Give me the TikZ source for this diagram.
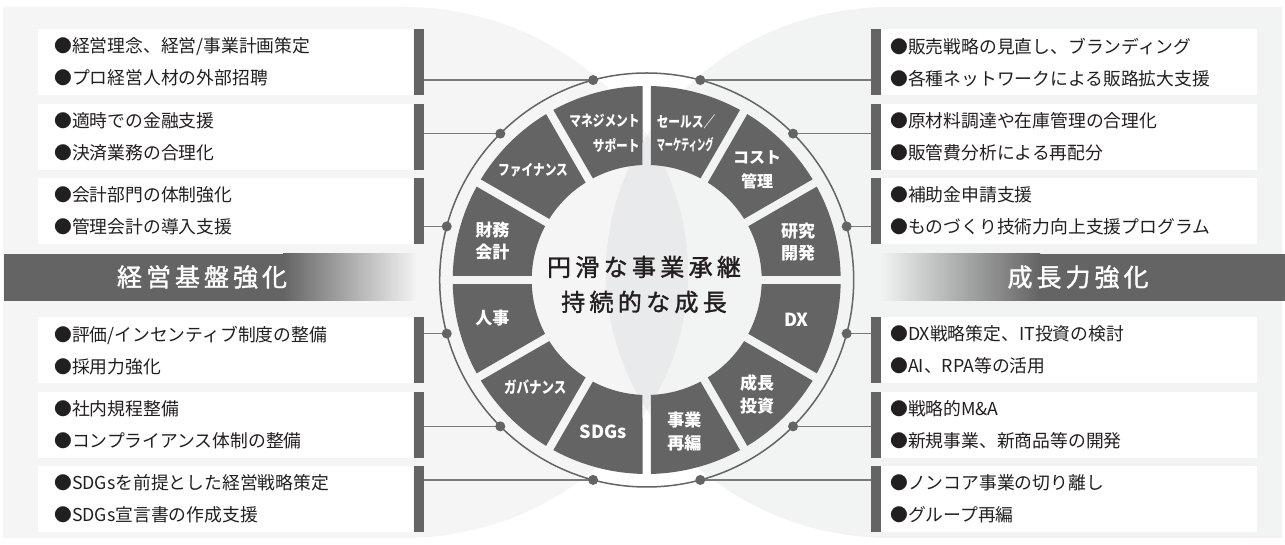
\documentclass[tikz,border=0pt]{standalone}
\usepackage{fontspec}
\usepackage{graphicx}
\setmainfont{Noto Sans CJK JP}
\newfontfamily\narrowjp[FakeStretch=0.78]{Noto Sans CJK JP}
\newfontfamily\mediumjp[FakeBold=1.4]{Noto Sans CJK JP}
\usetikzlibrary{positioning,calc}

\definecolor{bgleft}{HTML}{F5F5F5}
\definecolor{bgright}{HTML}{F2F3F3}
\definecolor{bglens}{HTML}{E9EAEB}
\definecolor{secgray}{HTML}{646464}
\definecolor{linegray}{HTML}{7A7A7A}
\definecolor{txtdark}{HTML}{231F20}

\tikzset{
  itembox/.style={fill=white, minimum width=375pt, minimum height=66pt, text width=343pt,
    inner xsep=16pt, inner ysep=0pt, align=left, text=txtdark,
    font=\fontsize{17.8}{32}\selectfont},
  itemboxr/.style={itembox, minimum width=376pt, text width=358pt, inner xsep=9pt},
  itembar/.style={fill=secgray, minimum width=10pt, minimum height=66pt, inner sep=0pt},
  titletext/.style={text=white, inner sep=0pt,
    font=\mediumjp\fontsize{25}{30}\selectfont\addfontfeature{LetterSpace=16}},
  seclabel/.style={text=white, inner sep=0pt, align=center},
  link/.style={draw=linegray, line width=1.3pt},
  ring/.style={draw=secgray, line width=1.5pt},
}

\begin{document}
\begin{tikzpicture}[x=1pt, y=1pt]
\useasboundingbox (0,0) rectangle (1285,545);
\fill[white] (0,0) rectangle (1285,545);

% Background halves
\fill[bgleft] (3,7) -- (403,7) arc[start angle=-90, end angle=90, x radius=285, y radius=265.5] -- (3,538) -- cycle;
\fill[bgright] (1282,7) -- (891,7) arc[start angle=270, end angle=90, x radius=285, y radius=265.5] -- (1282,538) -- cycle;
\begin{scope}
  \clip (3,7) -- (403,7) arc[start angle=-90, end angle=90, x radius=285, y radius=265.5] -- (3,538) -- cycle;
  \fill[bglens] (1282,7) -- (891,7) arc[start angle=270, end angle=90, x radius=285, y radius=265.5] -- (1282,538) -- cycle;
\end{scope}

% Left items
\node[itembox, anchor=north west] (L1) at (38,516) {●経営理念、経営/事業計画策定\\●プロ経営人材の外部招聘};
\node[itembox, below=8pt of L1] (L2) {●適時での金融支援\\●決済業務の合理化};
\node[itembox, below=8pt of L2] (L3) {●会計部門の体制強化\\●管理会計の導入支援};
\node[itembox, anchor=north west] (L4) at (38,228) {●評価/インセンティブ制度の整備\\●採用力強化};
\node[itembox, below=8pt of L4] (L5) {●社内規程整備\\●コンプライアンス体制の整備};
\node[itembox, below=8pt of L5] (L6) {●SDGsを前提とした経営戦略策定\\●SDGs宣言書の作成支援};
\foreach \i in {1,...,6}
  \node[itembar, right=0pt of L\i] (BL\i) {};

% Right items
\node[itemboxr, anchor=north west] (R1) at (881,516) {●販売戦略の見直し、ブランディング\\●各種ネットワークによる販路拡大支援};
\node[itemboxr, below=8pt of R1] (R2) {●原材料調達や在庫管理の合理化\\●販管費分析による再配分};
\node[itemboxr, below=8pt of R2] (R3) {●補助金申請支援\\●ものづくり技術力向上支援プログラム};
\node[itemboxr, anchor=north west] (R4) at (881,228) {●DX戦略策定、IT投資の検討\\●AI、RPA等の活用};
\node[itemboxr, below=8pt of R4] (R5) {●戦略的M\&A\\●新規事業、新商品等の開発};
\node[itemboxr, below=8pt of R5] (R6) {●ノンコア事業の切り離し\\●グループ再編};
\foreach \i in {1,...,6}
  \node[itembar, left=0pt of R\i] (BR\i) {};

% Title bars
\fill[secgray] (4,244) rectangle (283,291);
\shade[left color=secgray, right color=bgleft] (283,244) rectangle (418,291);
\node[titletext] (tL) at (202,268) {経営基盤強化};
\shade[left color=bgright, right color=secgray] (880,244) rectangle (1040,291);
\fill[secgray] (1040,244) rectangle (1285,291);
\node[titletext] (tR) at (1078,268) {成長力強化};

% Wheel
\coordinate (C) at (646.7,265);
\foreach \i/\a in {1/105,2/135,3/165,4/195,5/225,6/255} {
  \coordinate (dL\i) at ($(C)+(\a:207)$);
  \draw[link] (dL\i) -- (dL\i -| BL\i.east);
}
\foreach \i/\a in {1/75,2/45,3/15,4/-15,5/-45,6/-75} {
  \coordinate (dR\i) at ($(C)+(\a:207)$);
  \draw[link] (dR\i) -- (dR\i -| BR\i.west);
}
\draw[ring] (C) circle[radius=207];
\foreach \i in {1,...,6} {
  \fill[secgray] (dL\i) circle[radius=5];
  \fill[secgray] (dR\i) circle[radius=5];
}
\foreach \a in {0,30,...,330}
  \fill[secgray] ($(C)+(\a+1.24:194)$) arc[start angle=\a+1.24, end angle=\a+28.76, radius=194]
    -- ($(C)+(\a+27.9:115)$) arc[start angle=\a+27.9, end angle=\a+2.1, radius=115] -- cycle;

% Sector labels
\node[seclabel, align=right, font=\narrowjp\fontsize{15}{25}\selectfont\bfseries] (sMS) at ($(C)+(106:153)$) {マネジメント\\サポート};
\node[seclabel, align=left, font=\narrowjp\fontsize{15}{23}\selectfont\bfseries] (sSM) at ($(C)+(75:152)$) {セールス／\\\scalebox{0.7}[1]{マーケティング}};
\node[seclabel, font=\narrowjp\fontsize{15}{23}\selectfont\bfseries] (sFi) at ($(C)+(136:158)$) {ファイナンス};
\node[seclabel, font=\fontsize{16}{24}\selectfont\bfseries] (sCo) at ($(C)+(45:156)$) {コスト\\管理};
\node[seclabel, font=\fontsize{17}{22}\selectfont\bfseries] (sAc) at ($(C)+(166:159)$) {財務\\会計};
\node[seclabel, font=\fontsize{17}{22}\selectfont\bfseries] (sRD) at ($(C)+(14:156)$) {研究\\開発};
\node[seclabel, font=\fontsize{17}{22}\selectfont\bfseries] (sHR) at ($(C)+(194:159)$) {人事};
\node[seclabel, font=\fontsize{18}{22}\selectfont\bfseries] (sDX) at ($(C)+(-15:155)$) {DX};
\node[seclabel, font=\narrowjp\fontsize{16}{23}\selectfont\bfseries] (sGo) at ($(C)+(224:155)$) {ガバナンス};
\node[seclabel, font=\fontsize{17}{23}\selectfont\bfseries] (sGI) at ($(C)+(-46:159)$) {成長\\投資};
\node[seclabel, font=\fontsize{18}{22}\selectfont\bfseries] (sSD) at ($(C)+(254:158)$) {SDGs};
\node[seclabel, font=\fontsize{17}{23}\selectfont\bfseries] (sRe) at ($(C)+(284:156)$) {事業\\再編};

% Centre
\node[align=center, text=txtdark, inner sep=0pt,
  font=\mediumjp\fontsize{24}{35}\selectfont\addfontfeature{LetterSpace=18}] (core) at (644,260.5)
  {円滑な事業承継\\持続的な成長};
\end{tikzpicture}
\end{document}
